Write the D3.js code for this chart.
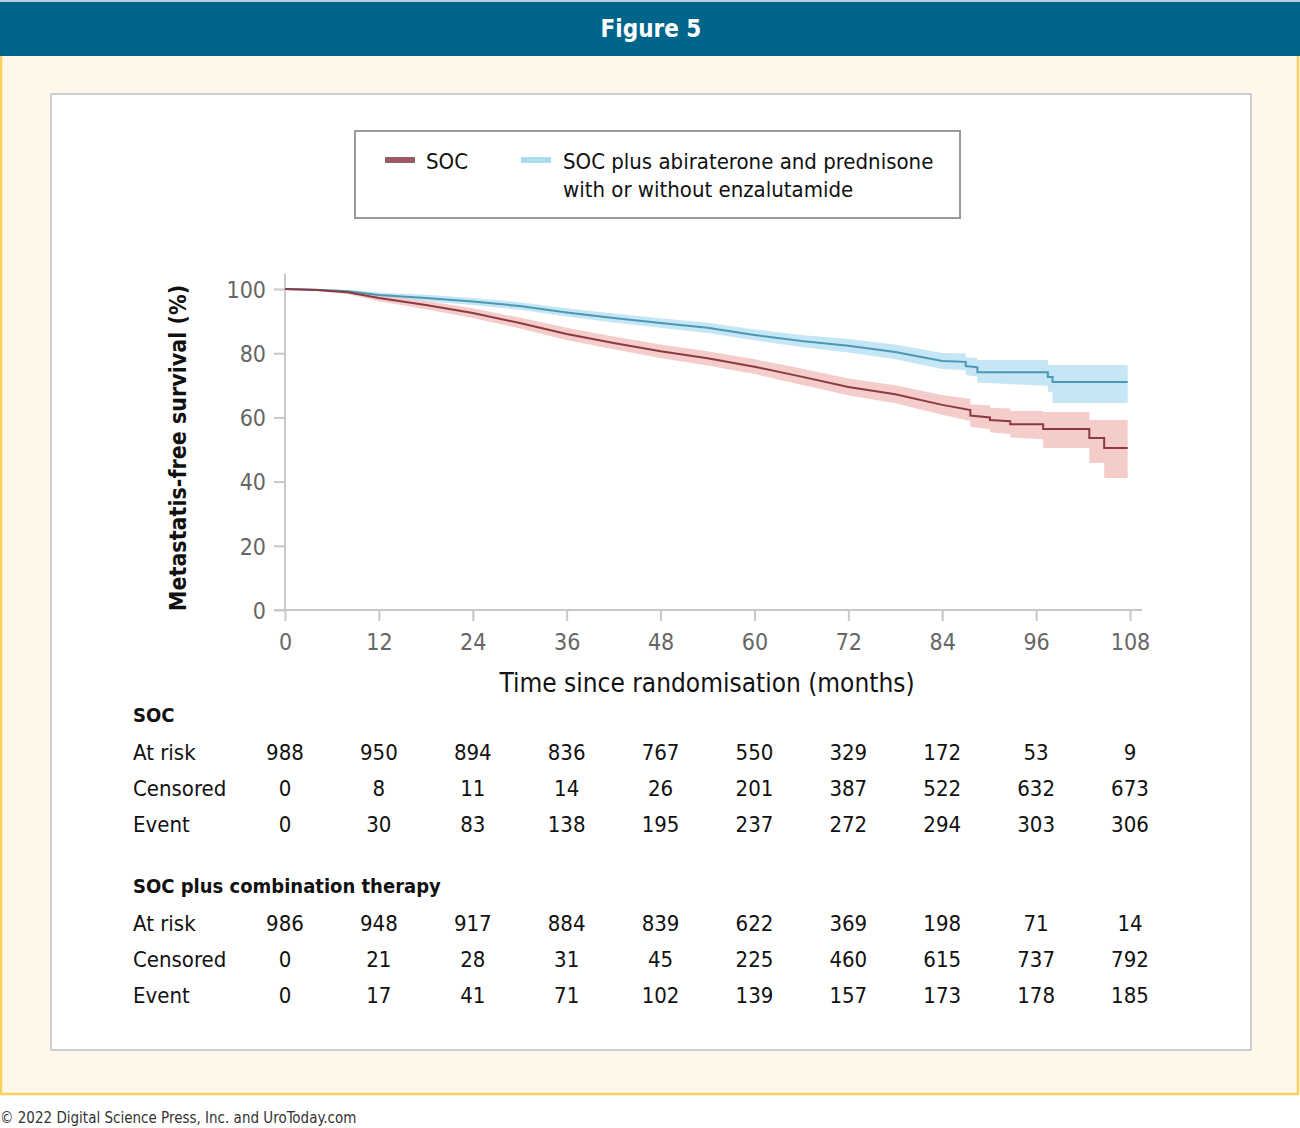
<!DOCTYPE html>
<html>
<head>
<meta charset="utf-8">
<script src="https://cdn.jsdelivr.net/npm/d3@7"></script>
<style>
  body { margin: 0; background: #fff; }
  svg text { font-family: "DejaVu Sans Condensed", "DejaVu Sans", sans-serif; }
</style>
</head>
<body>
<div id="chart"></div>
<script>
// Figure 5 - metastasis-free survival, KM curves with CI bands

// x ticks (months)
var monthTicks = [0, 12, 24, 36, 48, 60, 72, 84, 96, 108];
var survTicks = [0, 20, 40, 60, 80, 100];

// SOC curve
var socTime = [0, 4, 8, 12, 18, 24, 30, 36, 42, 48, 54, 60, 66, 72, 78, 84, 87.6, 87.6, 90.1, 90.1, 92.7, 92.7, 96.9, 96.9, 102.8, 102.8, 104.7, 104.7, 107.7];
var socSurv = [100, 99.7, 99.0, 97.2, 95.0, 92.5, 89.4, 86.0, 83.2, 80.6, 78.4, 75.8, 72.7, 69.5, 67.2, 63.9, 62.3, 60.6, 60.0, 59.2, 58.8, 57.9, 57.9, 56.4, 56.4, 53.6, 53.6, 50.5, 50.5];
var socLower = [100, 99.4, 98.4, 96.2, 93.7, 91.0, 87.7, 84.1, 81.2, 78.5, 76.2, 73.5, 70.2, 66.9, 64.4, 60.8, 58.9, 57.1, 56.3, 55.4, 54.8, 53.8, 53.2, 50.5, 50.5, 45.8, 45.8, 41.1, 41.1];
var socUpper = [100, 100, 99.6, 98.2, 96.3, 94.0, 91.1, 87.9, 85.2, 82.7, 80.6, 78.1, 75.2, 72.1, 70.0, 67.0, 65.7, 64.1, 63.7, 63.0, 62.8, 62.0, 62.0, 61.7, 61.7, 59.2, 59.2, 59.2, 59.2];

// SOC plus abiraterone curve
var abiTime = [0, 4, 8, 12, 18, 24, 30, 36, 42, 48, 54, 60, 66, 72, 78, 84, 87, 87, 88.5, 88.5, 97.5, 97.5, 98.1, 98.1, 107.7];
var abiSurv = [100, 99.8, 99.3, 98.1, 97.2, 96.1, 94.7, 92.7, 91.0, 89.4, 87.9, 85.7, 83.8, 82.3, 80.4, 77.6, 77.3, 76.0, 75.6, 74.1, 74.1, 72.6, 72.6, 71.0, 71.0];
var abiLower = [100, 99.6, 98.8, 97.3, 96.2, 95.0, 93.5, 91.4, 89.6, 87.9, 86.3, 84.0, 81.9, 80.2, 78.1, 75.1, 74.7, 73.2, 72.7, 70.9, 69.8, 68.0, 68.0, 64.5, 64.5];
var abiUpper = [100, 100, 99.7, 98.9, 98.2, 97.2, 95.9, 94.0, 92.4, 90.9, 89.5, 87.4, 85.7, 84.4, 82.7, 80.1, 79.9, 78.7, 78.4, 77.9, 77.9, 76.3, 76.3, 76.3, 76.3];

// numbers at risk table
var socAtRisk = [988, 950, 894, 836, 767, 550, 329, 172, 53, 9];
var socCensored = [0, 8, 11, 14, 26, 201, 387, 522, 632, 673];
var socEvent = [0, 30, 83, 138, 195, 237, 272, 294, 303, 306];
var comboAtRisk = [986, 948, 917, 884, 839, 622, 369, 198, 71, 14];
var comboCensored = [0, 21, 28, 31, 45, 225, 460, 615, 737, 792];
var comboEvent = [0, 17, 41, 71, 102, 139, 157, 173, 178, 185];

var svgWidth = 1300;
var svgHeight = 1128;

var svg = d3.select("#chart")
    .append("svg")
    .attr("width", svgWidth)
    .attr("height", svgHeight);

// cream panel with yellow border
svg.append("rect")
    .attr("x", 1).attr("y", 40)
    .attr("width", 1297).attr("height", 1054)
    .attr("fill", "#fff8ea")
    .attr("stroke", "#fcd15a")
    .attr("stroke-width", 2.5);

// header bar
svg.append("rect")
    .attr("x", 0).attr("y", 0)
    .attr("width", svgWidth).attr("height", 56)
    .attr("fill", "#00658b");
svg.append("rect")
    .attr("x", 0).attr("y", 0)
    .attr("width", svgWidth).attr("height", 2)
    .attr("fill", "#b8cfd8");
svg.append("text")
    .attr("x", 651).attr("y", 37)
    .attr("text-anchor", "middle")
    .attr("fill", "white")
    .attr("font-size", "24px")
    .attr("font-weight", "bold")
    .text("Figure 5");

// white inner panel
svg.append("rect")
    .attr("x", 51).attr("y", 94)
    .attr("width", 1200).attr("height", 956)
    .attr("fill", "white")
    .attr("stroke", "#cfcfcf")
    .attr("stroke-width", 2);

// legend
var legend = svg.append("g");
legend.append("rect")
    .attr("x", 355).attr("y", 131)
    .attr("width", 605).attr("height", 87)
    .attr("fill", "white")
    .attr("stroke", "#9a9a9a")
    .attr("stroke-width", 2);
legend.append("rect")
    .attr("x", 385).attr("y", 157)
    .attr("width", 30).attr("height", 6)
    .attr("fill", "#9a5a5f");
legend.append("text")
    .attr("x", 426).attr("y", 169)
    .attr("font-size", "22px")
    .attr("fill", "#111")
    .text("SOC");
legend.append("rect")
    .attr("x", 521).attr("y", 157)
    .attr("width", 30).attr("height", 6)
    .attr("fill", "#a9dcef");
legend.append("text")
    .attr("x", 563).attr("y", 169)
    .attr("font-size", "22px")
    .attr("fill", "#111")
    .text("SOC plus abiraterone and prednisone");
legend.append("text")
    .attr("x", 563).attr("y", 197)
    .attr("font-size", "22px")
    .attr("fill", "#111")
    .text("with or without enzalutamide");

// scales
var xScale = d3.scaleLinear().domain([0, 108]).range([285, 1130]);
var yScale = d3.scaleLinear().domain([0, 100]).range([610, 289]);

// axis lines
svg.append("line")
    .attr("x1", 285).attr("x2", 285)
    .attr("y1", 274).attr("y2", 610)
    .attr("stroke", "#c8c8c8").attr("stroke-width", 2);
svg.append("line")
    .attr("x1", 274).attr("x2", 1142)
    .attr("y1", 610).attr("y2", 610)
    .attr("stroke", "#c8c8c8").attr("stroke-width", 2);

var leftAxis = d3.axisLeft(yScale).tickValues(survTicks).tickSize(11).tickPadding(8);
var bottomAxis = d3.axisBottom(xScale).tickValues(monthTicks).tickSize(11).tickPadding(9);

var yAxis = svg.append("g")
    .attr("transform", "translate(285,0)")
    .call(leftAxis);
var xAxis = svg.append("g")
    .attr("transform", "translate(0,610)")
    .call(bottomAxis);

[xAxis, yAxis].forEach(function(ax) {
    ax.select(".domain").remove();
    ax.selectAll(".tick line").attr("stroke", "#c8c8c8").attr("stroke-width", 2);
    ax.selectAll(".tick text")
        .attr("fill", "#666")
        .attr("font-size", "23px")
        .style("font-family", "\"DejaVu Sans Condensed\", \"DejaVu Sans\", sans-serif");
});
yAxis.selectAll(".tick text").attr("dy", "0.36em");
xAxis.selectAll(".tick text").attr("dy", "0.85em");

// axis titles
svg.append("text")
    .attr("transform", "translate(186,448) rotate(-90)")
    .attr("text-anchor", "middle")
    .attr("font-size", "23px")
    .attr("font-weight", "bold")
    .attr("fill", "#111")
    .text("Metastatis-free survival (%)");
svg.append("text")
    .attr("x", 707).attr("y", 692)
    .attr("text-anchor", "middle")
    .attr("font-size", "26px")
    .attr("fill", "#111")
    .text("Time since randomisation (months)");

// curves
function buildSeries(times, surv, lo, hi) {
    return times.map(function(t, i) {
        return {t: t, s: surv[i], lo: lo[i], hi: hi[i]};
    });
}
var socData = buildSeries(socTime, socSurv, socLower, socUpper);
var abiData = buildSeries(abiTime, abiSurv, abiLower, abiUpper);

var band = d3.area()
    .x(d => xScale(d.t))
    .y0(d => yScale(d.lo))
    .y1(d => yScale(d.hi));
var line = d3.line()
    .x(d => xScale(d.t))
    .y(d => yScale(d.s));

var plot = svg.append("g");
plot.append("path").datum(abiData)
    .attr("d", band)
    .attr("fill", "#bfe3f3")
    .attr("opacity", 0.9);
plot.append("path").datum(socData)
    .attr("d", band)
    .attr("fill", "#f2c3c1")
    .attr("opacity", 0.85);
plot.append("path").datum(abiData)
    .attr("d", line)
    .attr("fill", "none")
    .attr("stroke", "#4a98b3")
    .attr("stroke-width", 2);
plot.append("path").datum(socData)
    .attr("d", line)
    .attr("fill", "none")
    .attr("stroke", "#8a3a40")
    .attr("stroke-width", 2);

// at-risk table
function tableBlock(title, rows, top) {
    var g = svg.append("g");
    g.append("text")
        .attr("x", 133).attr("y", top)
        .attr("font-size", "20px")
        .attr("font-weight", "bold")
        .attr("fill", "#111")
        .text(title);
    rows.forEach(function(row, r) {
        var yPos = top + 38 + r * 36;
        g.append("text")
            .attr("x", 133).attr("y", yPos)
            .attr("font-size", "22px")
            .attr("fill", "#111")
            .text(row.label);
        g.selectAll(null)
            .data(row.values)
            .enter()
            .append("text")
            .attr("x", (d, i) => xScale(monthTicks[i]))
            .attr("y", yPos)
            .attr("text-anchor", "middle")
            .attr("font-size", "22px")
            .attr("fill", "#111")
            .text(d => d);
    });
}

tableBlock("SOC", [
    {label: "At risk", values: socAtRisk},
    {label: "Censored", values: socCensored},
    {label: "Event", values: socEvent}
], 722);

tableBlock("SOC plus combination therapy", [
    {label: "At risk", values: comboAtRisk},
    {label: "Censored", values: comboCensored},
    {label: "Event", values: comboEvent}
], 893);

// footer
svg.append("text")
    .attr("x", 0).attr("y", 1123)
    .attr("font-size", "15px")
    .attr("fill", "#333")
    .text("\u00a9 2022 Digital Science Press, Inc. and UroToday.com");
</script>
</body>
</html>
